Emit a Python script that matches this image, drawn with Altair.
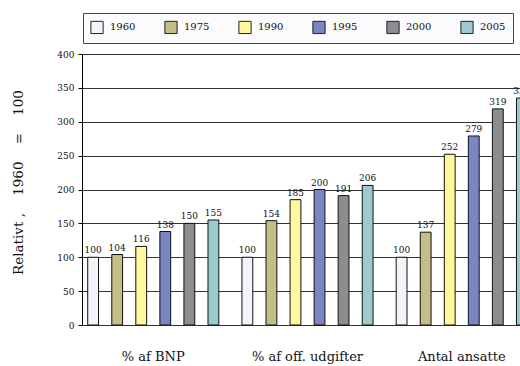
import altair as alt
import pandas as pd

groups = ["% af BNP", "% af off. udgifter", "Antal ansatte"]
years = ["1960", "1975", "1990", "1995", "2000", "2005"]
bnp = [100, 104, 116, 138, 150, 155]
udgifter = [100, 154, 185, 200, 191, 206]
ansatte = [100, 137, 252, 279, 319, 335]
colors = ["#f5f3f9", "#c3be87", "#fff89c", "#7a86c4", "#8d8d91", "#9ccace"]

rows = []
for g, vals in zip(groups, [bnp, udgifter, ansatte]):
    for y, v in zip(years, vals):
        rows.append({"group": g, "year": y, "value": v})
df = pd.DataFrame(rows)

FONT = "DejaVu Serif"
SP = "\u00a0" * 4

base = alt.Chart(df).encode(
    x=alt.X("group:N", sort=groups, title=None,
            scale=alt.Scale(paddingInner=0.15, paddingOuter=0.05, range=[-2, 453]),
            axis=alt.Axis(labelAngle=0, ticks=False, domain=False,
                          labelPadding=25, labelFont=FONT, labelFontSize=13,
                          labelColor="#111")),
    xOffset=alt.XOffset("year:N", sort=years,
                        scale=alt.Scale(paddingInner=0.55, paddingOuter=0)),
    y=alt.Y("value:Q", scale=alt.Scale(domain=[0, 400], nice=False),
            title="Relativt ," + SP + "1960" + SP + "=" + SP + "100",
            axis=alt.Axis(values=list(range(0, 401, 50)), grid=True,
                          gridColor="#333", gridWidth=1, gridOpacity=1,
                          domainColor="#000", tickColor="#000", tickSize=4,
                          labelPadding=4, labelFont=FONT, labelFontSize=9,
                          labelColor="#111", titleFont=FONT, titleFontSize=13.5,
                          titleFontWeight="normal", titleColor="#111",
                          titlePadding=31, titleY=128)),
)

bars = base.mark_bar(stroke="#111", strokeWidth=1, opacity=1).encode(
    color=alt.Color("year:N", sort=years,
                    scale=alt.Scale(domain=years, range=colors),
                    legend=alt.Legend(title=None, orient="none", direction="horizontal",
                                      legendX=1, legendY=-41,
                                      symbolType="square", symbolSize=150,
                                      symbolStrokeColor="#222", symbolStrokeWidth=1,
                                      symbolOpacity=1,
                                      labelFont=FONT, labelFontSize=10,
                                      labelColor="#111", labelOffset=6,
                                      labelExpr="(datum.value == '2005' || datum.label == '2005') ? '2005\u2003\u2003\u2003\u2003\u2003' : datum.label",
                                      columnPadding=26, padding=7,
                                      strokeColor="#444", fillColor="#fbfafd"))
)

labels = base.mark_text(dy=-2, font=FONT, fontSize=9, color="#111",
                        baseline="bottom").encode(text="value:Q")

chart = alt.layer(bars, labels).properties(
    width=438, height=271,
    autosize=alt.AutoSizeParams(type="none"),
    padding={"left": 82, "top": 54, "right": 0, "bottom": 41},
).configure_view(stroke=None).configure(background="white")

chart.save("out.html", embed_options={"renderer": "svg", "actions": False})
